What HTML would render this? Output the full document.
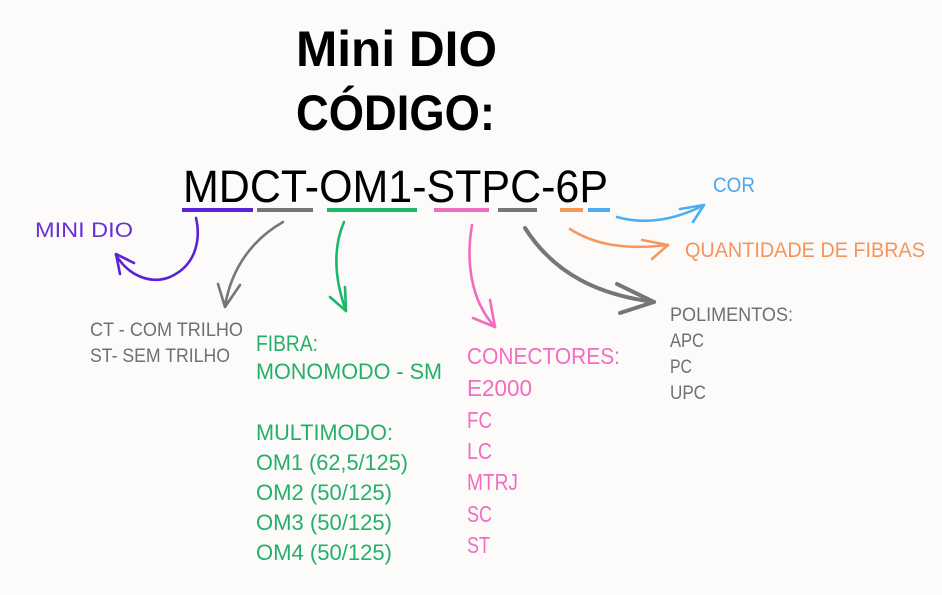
<!DOCTYPE html>
<html><head><meta charset="utf-8"><style>
html,body{margin:0;padding:0;background:#fcfbfa;}
svg{display:block;}
text{font-family:"Liberation Sans",sans-serif;}
</style></head><body>
<svg width="942" height="595" viewBox="0 0 942 595" xmlns="http://www.w3.org/2000/svg">
<rect width="942" height="595" fill="#fcfbfa"/>
<text x="296" y="66" font-size="50" font-weight="bold" fill="#000" textLength="201" lengthAdjust="spacingAndGlyphs">Mini DIO</text>
<text x="296" y="130" font-size="50" font-weight="bold" fill="#000" textLength="199" lengthAdjust="spacingAndGlyphs">CÓDIGO:</text>
<text x="183" y="202" font-size="45" fill="#000" textLength="425" lengthAdjust="spacingAndGlyphs">MDCT-OM1-STPC-6P</text>
<g stroke-width="4">
<line x1="182" y1="210" x2="253" y2="210" stroke="#5a22d6"/>
<line x1="257" y1="210" x2="313" y2="210" stroke="#767676"/>
<line x1="327" y1="210" x2="417" y2="210" stroke="#1db66a"/>
<line x1="434" y1="210" x2="489" y2="210" stroke="#f06cbe"/>
<line x1="498" y1="210" x2="537" y2="210" stroke="#767676"/>
<line x1="560" y1="210" x2="583" y2="210" stroke="#f5985a"/>
<line x1="588" y1="210" x2="610" y2="210" stroke="#4aaff0"/>
</g>
<g fill="none" stroke-linecap="round" stroke-linejoin="round" stroke-width="2.6">
<path d="M196,218 C200,235 199,264 170,277 C150,285 128,275 116,255" stroke="#5a22d6"/>
<path d="M134,263 L116,254 L120,274" stroke="#5a22d6"/>
<path d="M283,222 C255,238 232,265 225,306" stroke="#767676"/>
<path d="M218,284 L225,307 L240,285" stroke="#767676"/>
<path d="M344,222 C334,245 333,275 346,311" stroke="#1db66a"/>
<path d="M330,297 L346,311 L345,287" stroke="#1db66a"/>
<path d="M472,225 C466,260 470,300 495,327" stroke="#f06cbe"/>
<path d="M473,318 L495,327 L490,300" stroke="#f06cbe"/>
<path d="M525,228 C555,275 600,295 654,302" stroke="#767676" stroke-width="4"/>
<path d="M617,284 L654,302 L620,313" stroke="#767676" stroke-width="4"/>
<path d="M570,229 C595,245 625,250 668,245" stroke="#f5985a"/>
<path d="M642,240 L668,245 L652,259" stroke="#f5985a"/>
<path d="M617,217 C645,225 675,220 704,205" stroke="#4aaff0"/>
<path d="M680,209 L704,205 L693,222" stroke="#4aaff0"/>
</g>
<text x="35" y="237" fill="#6a30d8" font-size="21.5" textLength="98" lengthAdjust="spacingAndGlyphs">MINI DIO</text>
<text x="90" y="336" fill="#707070" font-size="19.5" textLength="153" lengthAdjust="spacingAndGlyphs">CT - COM TRILHO</text>
<text x="90" y="362" fill="#707070" font-size="19.5" textLength="140" lengthAdjust="spacingAndGlyphs">ST- SEM TRILHO</text>
<g fill="#25b06a" font-size="22.5">
<text x="256" y="351" textLength="62" lengthAdjust="spacingAndGlyphs">FIBRA:</text>
<text x="256" y="379" textLength="186" lengthAdjust="spacingAndGlyphs">MONOMODO - SM</text>
<text x="256" y="440" textLength="137" lengthAdjust="spacingAndGlyphs">MULTIMODO:</text>
<text x="256" y="470" textLength="152" lengthAdjust="spacingAndGlyphs">OM1 (62,5/125)</text>
<text x="256" y="500" textLength="136" lengthAdjust="spacingAndGlyphs">OM2 (50/125)</text>
<text x="256" y="530" textLength="136" lengthAdjust="spacingAndGlyphs">OM3 (50/125)</text>
<text x="256" y="560" textLength="136" lengthAdjust="spacingAndGlyphs">OM4 (50/125)</text>
</g>
<g fill="#f26cc0" font-size="23.5">
<text x="467" y="364" textLength="153" lengthAdjust="spacingAndGlyphs">CONECTORES:</text>
<text x="467" y="396" textLength="65" lengthAdjust="spacingAndGlyphs">E2000</text>
<text x="467" y="428" textLength="25" lengthAdjust="spacingAndGlyphs">FC</text>
<text x="467" y="459" textLength="25" lengthAdjust="spacingAndGlyphs">LC</text>
<text x="467" y="490" textLength="51" lengthAdjust="spacingAndGlyphs">MTRJ</text>
<text x="467" y="522" textLength="25" lengthAdjust="spacingAndGlyphs">SC</text>
<text x="467" y="553" textLength="23" lengthAdjust="spacingAndGlyphs">ST</text>
</g>
<g fill="#707070" font-size="19.5">
<text x="670" y="321" textLength="123" lengthAdjust="spacingAndGlyphs">POLIMENTOS:</text>
<text x="670" y="347" textLength="34" lengthAdjust="spacingAndGlyphs">APC</text>
<text x="670" y="373" textLength="22" lengthAdjust="spacingAndGlyphs">PC</text>
<text x="670" y="399" textLength="36" lengthAdjust="spacingAndGlyphs">UPC</text>
</g>
<text x="713" y="192" fill="#4aa8ee" font-size="21" textLength="42" lengthAdjust="spacingAndGlyphs">COR</text>
<text x="685" y="257" fill="#f5945a" font-size="21.5" textLength="240" lengthAdjust="spacingAndGlyphs">QUANTIDADE DE FIBRAS</text>
</svg>
</body></html>
